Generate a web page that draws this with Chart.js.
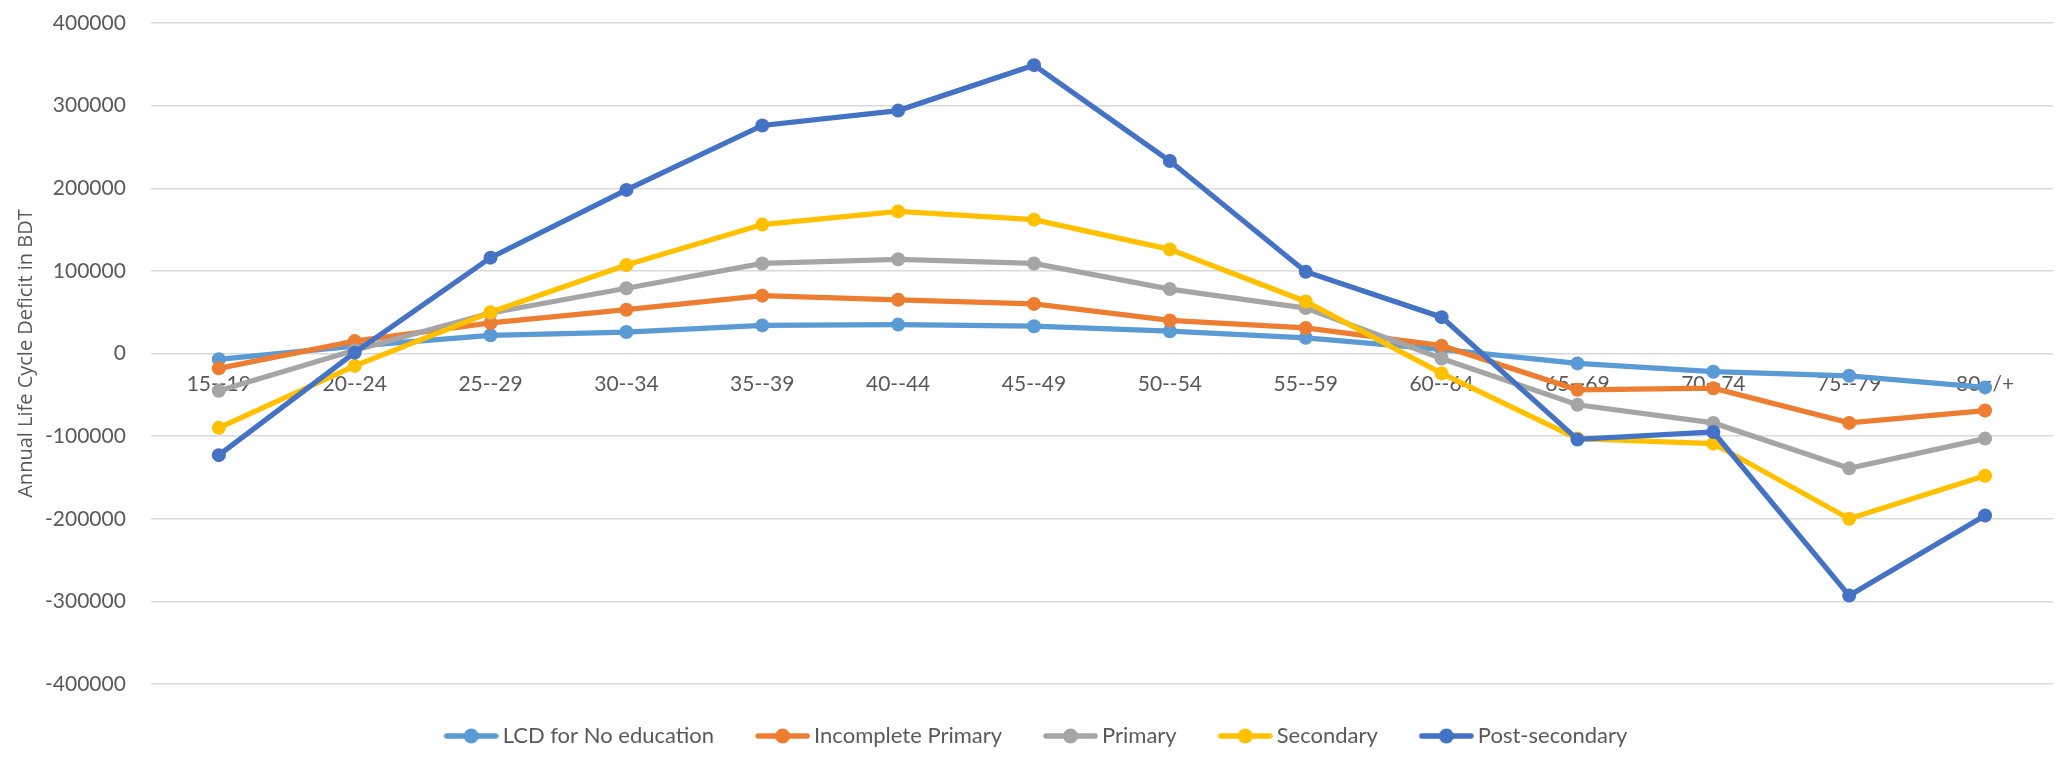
<!DOCTYPE html>
<html>
<head>
<meta charset="utf-8">
<script src="https://cdn.jsdelivr.net/npm/chart.js@4.4.1/dist/chart.umd.min.js"></script>
<style>
  html, body { margin: 0; padding: 0; background: #ffffff; }
  #wrap { width: 2060px; height: 760px; }
</style>
</head>
<body>
<div id="wrap"><canvas id="lcd" width="2060" height="760"></canvas></div>
<script>
// Age groups on the horizontal axis
const ageGroups = ['15--19', '20--24', '25--29', '30--34', '35--39', '40--44', '45--49',
                   '50--54', '55--59', '60--64', '65--69', '70--74', '75--79', '80=/+'];

// Annual life cycle deficit (BDT) by education level
const noEducation       = [-7000, 9000, 22000, 26000, 34000, 35000, 33000, 27000, 19000, 5000, -12000, -22000, -27000, -41000];
const incompletePrimary = [-18000, 15000, 37000, 53000, 70000, 65000, 60000, 40000, 31000, 9500, -44000, -42000, -84000, -69000];
const primary           = [-45000, 4000, 49000, 79000, 109000, 114000, 109000, 78000, 55000, -6000, -62000, -84000, -139000, -103000];
const secondary         = [-90000, -15000, 50000, 107000, 156000, 172000, 162000, 126000, 63000, -24000, -103000, -109000, -200000, -148000];
const postSecondary     = [-123000, 1000, 116000, 198000, 276000, 294000, 349000, 233000, 99000, 44000, -104000, -95000, -293000, -196000];

const seriesNames  = ['LCD for No education', 'Incomplete Primary', 'Primary', 'Secondary', 'Post-secondary'];
const seriesValues = [noEducation, incompletePrimary, primary, secondary, postSecondary];
const seriesColors = ['#5B9BD5', '#ED7D31', '#A5A5A5', '#FFC000', '#4472C4'];

// Y axis range and step
const yMin = -400000;
const yMax = 400000;
const yStep = 100000;

const textColor = '#595959';
const labelFont = 'Lato';

// Legend icon: short line with a round marker; drawn at the right of a
// slightly wider canvas so it sits just before its label
function legendIcon(color) {
  const c = document.createElement('canvas');
  c.width = 62; c.height = 18;
  const g = c.getContext('2d');
  g.strokeStyle = color;
  g.lineWidth = 5.5;
  g.lineCap = 'round';
  g.beginPath();
  g.moveTo(10, 9); g.lineTo(59, 9);
  g.stroke();
  g.fillStyle = color;
  g.beginPath();
  g.arc(34.5, 9, 7.5, 0, Math.PI * 2);
  g.fill();
  return c;
}
const icons = seriesColors.map(legendIcon);

const datasets = seriesNames.map((name, i) => ({
  label: name,
  data: seriesValues[i],
  borderColor: seriesColors[i],
  backgroundColor: seriesColors[i],
  borderWidth: 5.25,
  pointRadius: 7,
  pointHoverRadius: 7,
  pointBorderWidth: 0,
  pointStyle: 'circle',
  tension: 0,
  fill: false,
  // later series are painted above earlier ones
  order: seriesNames.length - 1 - i
}));

new Chart(document.getElementById('lcd'), {
  type: 'line',
  data: { labels: ageGroups, datasets },
  options: {
    responsive: false,
    animation: false,
    devicePixelRatio: 1,
    layout: { padding: { left: 14, right: 3, top: 23, bottom: 3 } },
    plugins: {
      tooltip: { enabled: false },
      legend: {
        position: 'bottom',
        labels: {
          font: { family: labelFont, size: 22 },
          color: textColor,
          usePointStyle: true,
          pointStyleWidth: 48,
          boxHeight: 22,
          padding: 41,
          sort: (a, b) => a.datasetIndex - b.datasetIndex,
          generateLabels(chart) {
            const items = Chart.defaults.plugins.legend.labels.generateLabels(chart);
            return items.map(it => Object.assign(it, { pointStyle: icons[it.datasetIndex] }));
          }
        }
      }
    },
    scales: {
      x: {
        type: 'category',
        offset: true,
        position: { y: 0 },
        grid: { display: false, drawTicks: false },
        border: { display: false },
        ticks: {
          font: { family: labelFont, size: 21 },
          color: textColor,
          padding: 18,
          maxRotation: 0,
          autoSkip: false
        }
      },
      y: {
        min: yMin,
        max: yMax,
        grid: {
          color: '#D9D9D9',
          lineWidth: 1.5,
          drawTicks: true,
          tickLength: 22,
          tickColor: 'rgba(0,0,0,0)'
        },
        border: { display: false },
        ticks: {
          stepSize: yStep,
          font: { family: labelFont, size: 21 },
          color: textColor,
          padding: 3,
          callback: v => String(v)
        },
        title: {
          display: true,
          text: 'Annual Life Cycle Deficit in BDT',
          font: { family: 'Open Sans', size: 20 },
          color: textColor,
          padding: { top: 0, bottom: 4 }
        }
      }
    }
  }
});
</script>
</body>
</html>
